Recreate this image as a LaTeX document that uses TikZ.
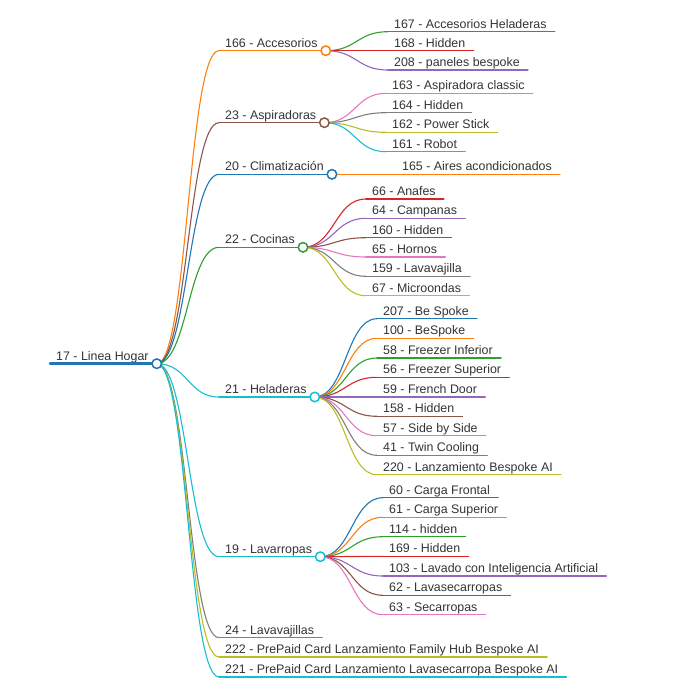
\documentclass[tikz,border=0pt]{standalone}
\usepackage{fontspec}
\setmainfont{Liberation Sans}
\usetikzlibrary{calc}
\definecolor{cBlue}{HTML}{1F77B4}
\definecolor{cOrange}{HTML}{FF7F0E}
\definecolor{cGreen}{HTML}{2CA02C}
\definecolor{cRed}{HTML}{D62728}
\definecolor{cPurple}{HTML}{9467BD}
\definecolor{cBrown}{HTML}{8C564B}
\definecolor{cPink}{HTML}{E377C2}
\definecolor{cGray}{HTML}{7F7F7F}
\definecolor{cOlive}{HTML}{BCBD22}
\definecolor{cCyan}{HTML}{17BECF}
\definecolor{txt}{HTML}{333333}
\tikzset{
  lbl/.style={anchor=base west, inner sep=0pt, text=txt, font=\fontsize{12.4}{14}\selectfont},
  ul/.style={line width=1.5pt, line cap=round},
  lnk/.style={line width=1.1pt},
  knob/.style={circle, draw, fill=white, line width=1.5pt, minimum size=9.5pt, inner sep=0pt},
}
% name, x, y, style, text
\newcommand\mmitem[5]{%
  \coordinate (#1) at (#2,#3);
  \node[lbl] (#1-t) at ({#2+6},{#3-3.5}) {#5};
  \path (#1-t.east) ++(8pt,0) coordinate (#1-x);
  \coordinate (#1-e) at (#1-x |- #1);
  \draw[ul,#4] (#1) -- (#1-e);
}
% from, to, colour
\newcommand\mmlink[3]{%
  \draw[lnk,#3] let \p1=(#1), \p2=(#2) in (#1) .. controls ({(\x1+\x2)/2},\y1) and ({(\x1+\x2)/2},\y2) .. (#2);
}
\newcommand\mmknob[2]{\node[knob,draw=#2] (#1-c) at (#1-e) {};}
\begin{document}
\begin{tikzpicture}[x=1pt,y=-1pt]
\useasboundingbox (0,0) rectangle (676,690);
% root
\mmitem{root}{50}{363.7}{cBlue,line width=2.5pt}{17 - Linea Hogar}
% level 1
\mmitem{acc}{219}{50.7}{cOrange}{166 - Accesorios}
\mmitem{asp}{219}{122.7}{cBrown}{23 - Aspiradoras}
\mmitem{cli}{219}{174.3}{cBlue}{20 - Climatización}
\mmitem{coc}{219}{247.3}{cGreen}{22 - Cocinas}
\mmitem{hel}{219}{397}{cCyan}{21 - Heladeras}
\mmitem{lav}{219}{556.7}{cCyan}{19 - Lavarropas}
\mmitem{lvj}{219}{637.7}{cGray}{24 - Lavavajillas}
\mmitem{ppa}{219}{657}{cOlive}{222 - PrePaid Card Lanzamiento Family Hub Bespoke AI}
\mmitem{ppb}{219}{677}{cCyan}{221 - PrePaid Card Lanzamiento Lavasecarropa Bespoke AI}
\mmlink{root-e}{acc}{cOrange}
\mmlink{root-e}{asp}{cBrown}
\mmlink{root-e}{cli}{cBlue}
\mmlink{root-e}{coc}{cGreen}
\mmlink{root-e}{hel}{cCyan}
\mmlink{root-e}{lav}{cCyan}
\mmlink{root-e}{lvj}{cGray}
\mmlink{root-e}{ppa}{cOlive}
\mmlink{root-e}{ppb}{cCyan}
% Accesorios
\mmitem{a167}{388}{31.7}{cGreen}{167 - Accesorios Heladeras}
\mmitem{a168}{388}{50.7}{cRed}{168 - Hidden}
\mmitem{a208}{388}{70}{cPurple}{208 - paneles bespoke}
\mmlink{acc-e}{a167}{cGreen}
\mmlink{acc-e}{a168}{cRed}
\mmlink{acc-e}{a208}{cPurple}
% Aspiradoras
\mmitem{s163}{386}{93.3}{cPink}{163 - Aspiradora classic}
\mmitem{s164}{386}{112.7}{cGray}{164 - Hidden}
\mmitem{s162}{386}{132.3}{cOlive}{162 - Power Stick}
\mmitem{s161}{386}{151.7}{cCyan}{161 - Robot}
\mmlink{asp-e}{s163}{cPink}
\mmlink{asp-e}{s164}{cGray}
\mmlink{asp-e}{s162}{cOlive}
\mmlink{asp-e}{s161}{cCyan}
% Climatizacion
\mmitem{c165}{396}{174.3}{cOrange}{165 - Aires acondicionados}
\mmlink{cli-e}{c165}{cOrange}
% Cocinas
\mmitem{k66}{366}{199}{cRed}{66 - Anafes}
\mmitem{k64}{366}{218.3}{cPurple}{64 - Campanas}
\mmitem{k160}{366}{237.7}{cBrown}{160 - Hidden}
\mmitem{k65}{366}{257}{cPink}{65 - Hornos}
\mmitem{k159}{366}{276.3}{cGray}{159 - Lavavajilla}
\mmitem{k67}{366}{295.7}{cOlive}{67 - Microondas}
\mmlink{coc-e}{k66}{cRed}
\mmlink{coc-e}{k64}{cPurple}
\mmlink{coc-e}{k160}{cBrown}
\mmlink{coc-e}{k65}{cPink}
\mmlink{coc-e}{k159}{cGray}
\mmlink{coc-e}{k67}{cOlive}
% Heladeras
\mmitem{h207}{377}{318.7}{cBlue}{207 - Be Spoke}
\mmitem{h100}{377}{338.3}{cOrange}{100 - BeSpoke}
\mmitem{h58}{377}{358}{cGreen}{58 - Freezer Inferior}
\mmitem{h56}{377}{377.3}{cRed}{56 - Freezer Superior}
\mmitem{h59}{377}{397}{cPurple}{59 - French Door}
\mmitem{h158}{377}{416.3}{cBrown}{158 - Hidden}
\mmitem{h57}{377}{435.7}{cPink}{57 - Side by Side}
\mmitem{h41}{377}{455.3}{cGray}{41 - Twin Cooling}
\mmitem{h220}{377}{474.7}{cOlive}{220 - Lanzamiento Bespoke AI}
\mmlink{hel-e}{h207}{cBlue}
\mmlink{hel-e}{h100}{cOrange}
\mmlink{hel-e}{h58}{cGreen}
\mmlink{hel-e}{h56}{cRed}
\mmlink{hel-e}{h59}{cPurple}
\mmlink{hel-e}{h158}{cBrown}
\mmlink{hel-e}{h57}{cPink}
\mmlink{hel-e}{h41}{cGray}
\mmlink{hel-e}{h220}{cOlive}
% Lavarropas
\mmitem{l60}{383}{497.7}{cBlue}{60 - Carga Frontal}
\mmitem{l61}{383}{517.3}{cOrange}{61 - Carga Superior}
\mmitem{l114}{383}{536.7}{cGreen}{114 - hidden}
\mmitem{l169}{383}{556.3}{cRed}{169 - Hidden}
\mmitem{l103}{383}{576}{cPurple}{103 - Lavado con Inteligencia Artificial}
\mmitem{l62}{383}{595.3}{cBrown}{62 - Lavasecarropas}
\mmitem{l63}{383}{614.7}{cPink}{63 - Secarropas}
\mmlink{lav-e}{l60}{cBlue}
\mmlink{lav-e}{l61}{cOrange}
\mmlink{lav-e}{l114}{cGreen}
\mmlink{lav-e}{l169}{cRed}
\mmlink{lav-e}{l103}{cPurple}
\mmlink{lav-e}{l62}{cBrown}
\mmlink{lav-e}{l63}{cPink}
% knobs
\mmknob{root}{cBlue}
\mmknob{acc}{cOrange}
\mmknob{asp}{cBrown}
\mmknob{cli}{cBlue}
\mmknob{coc}{cGreen}
\mmknob{hel}{cCyan}
\mmknob{lav}{cCyan}
\end{tikzpicture}
\end{document}
